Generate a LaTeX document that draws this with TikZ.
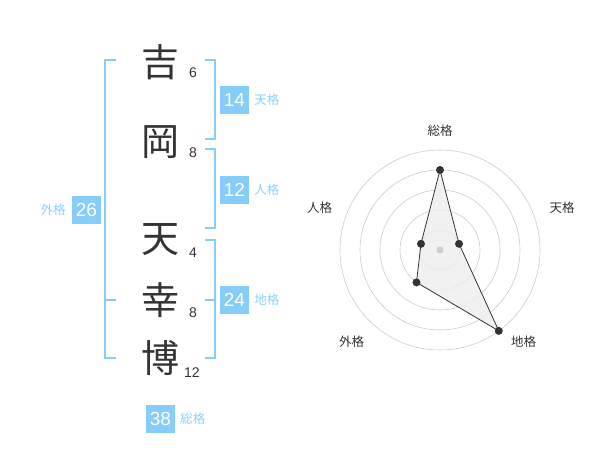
\documentclass[tikz,border=0pt]{standalone}
\usepackage{fontspec}
\setmainfont{Liberation Sans}
\newfontfamily\cjk{Noto Sans CJK JP}
\usetikzlibrary{positioning}
\definecolor{kakublue}{HTML}{86CDF9}
\definecolor{kakutext}{HTML}{8FD0F5}
\definecolor{inkgray}{HTML}{333333}
\definecolor{ringgray}{HTML}{CCCCCC}
\definecolor{areagray}{HTML}{EEEEEE}
\tikzset{
    kanji/.style={
        font=\cjk\fontsize{38}{38}\selectfont,
        text=inkgray,
        inner sep=0pt
    },
    stroke/.style={
        font=\fontsize{14}{14}\selectfont,
        text=inkgray,
        inner sep=0pt
    },
    kakubox/.style={
        rectangle,
        fill=kakublue,
        text=white,
        minimum width=29pt,
        minimum height=28pt,
        inner sep=0pt,
        font=\fontsize{19}{19}\selectfont
    },
    kakuname/.style={
        font=\cjk\fontsize{12.5}{12.5}\selectfont,
        text=kakutext,
        inner sep=0pt
    },
    bracket/.style={
        draw=kakublue,
        line width=1.3pt
    },
    axisname/.style={
        font=\cjk\fontsize{12.5}{12.5}\selectfont,
        text=inkgray,
        inner sep=0pt
    },
    ring/.style={
        draw=ringgray,
        line width=0.6pt
    },
    dot/.style={
        circle,
        fill=inkgray,
        inner sep=0pt,
        minimum size=8pt
    }
}

\begin{document}
\begin{tikzpicture}[x=1pt,y=-1pt]
            \useasboundingbox (0,0) rectangle (600,470);
            % name
            \node (kichi) [kanji] at (160,62) {吉};
            \node (oka) [kanji] at (160,142) {岡};
            \node (ten) [kanji] at (160,240) {天};
            \node (kou) [kanji] at (160,300) {幸};
            \node (haku) [kanji] at (160,358) {博};
            \node (kichinum) [stroke] at (193,73) {6};
            \node (okanum) [stroke] at (193,153) {8};
            \node (tennum) [stroke] at (193,253) {4};
            \node (kounum) [stroke] at (193,313) {8};
            \node (hakunum) [stroke] at (192,373) {12};
            % brackets
            \draw [bracket] (116,60) -- (105,60) -- (105,358) -- (116,358);
            \draw [bracket] (105,300) -- (116,300);
            \draw [bracket] (205,60) -- (215,60) -- (215,139) -- (205,139);
            \draw [bracket] (205,149) -- (215,149) -- (215,228) -- (205,228);
            \draw [bracket] (205,240) -- (215,240) -- (215,358) -- (205,358);
            \draw [bracket] (205,300) -- (215,300);
            % kaku
            \node (tenbox) [kakubox] at (234.5,100) {14};
            \node (tenname) [kakuname, right=5pt of tenbox] {天格};
            \node (jinbox) [kakubox] at (234.5,190) {12};
            \node (jinname) [kakuname, right=5pt of jinbox] {人格};
            \node (chibox) [kakubox] at (234.5,300) {24};
            \node (chiname) [kakuname, right=5pt of chibox] {地格};
            \node (gaibox) [kakubox] at (86.5,210) {26};
            \node (gainame) [kakuname, left=6pt of gaibox] {外格};
            \node (soubox) [kakubox] at (160.5,419) {38};
            \node (souname) [kakuname, right=5pt of soubox] {総格};
            % radar
            \begin{scope}[shift={(440,250)}, yscale=-1]
                \foreach \r in {20,40,60,80,100}
                    \draw [ring] (0,0) circle (\r);
                \coordinate (psou) at (90:80);
                \coordinate (pten) at (18:20);
                \coordinate (pchi) at (-54:100);
                \coordinate (pgai) at (-126:40);
                \coordinate (pjin) at (162:20);
                \filldraw [fill=areagray, fill opacity=0.8, draw=inkgray, line width=0.8pt]
                    (psou) -- (pten) -- (pchi) -- (pgai) -- (pjin) -- cycle;
                \node (center) [dot, fill=ringgray, minimum size=7pt] at (0,0) {};
                \foreach \p in {psou,pten,pchi,pgai,pjin}
                    \node [dot] at (\p) {};
            \end{scope}
            \node (axsou) [axisname] at (440,130.5) {総格};
            \node (axten) [axisname] at (562,208) {天格};
            \node (axjin) [axisname] at (319.5,208) {人格};
            \node (axgai) [axisname] at (351.5,342) {外格};
            \node (axchi) [axisname] at (523.5,342) {地格};
        \end{tikzpicture}
\end{document}
